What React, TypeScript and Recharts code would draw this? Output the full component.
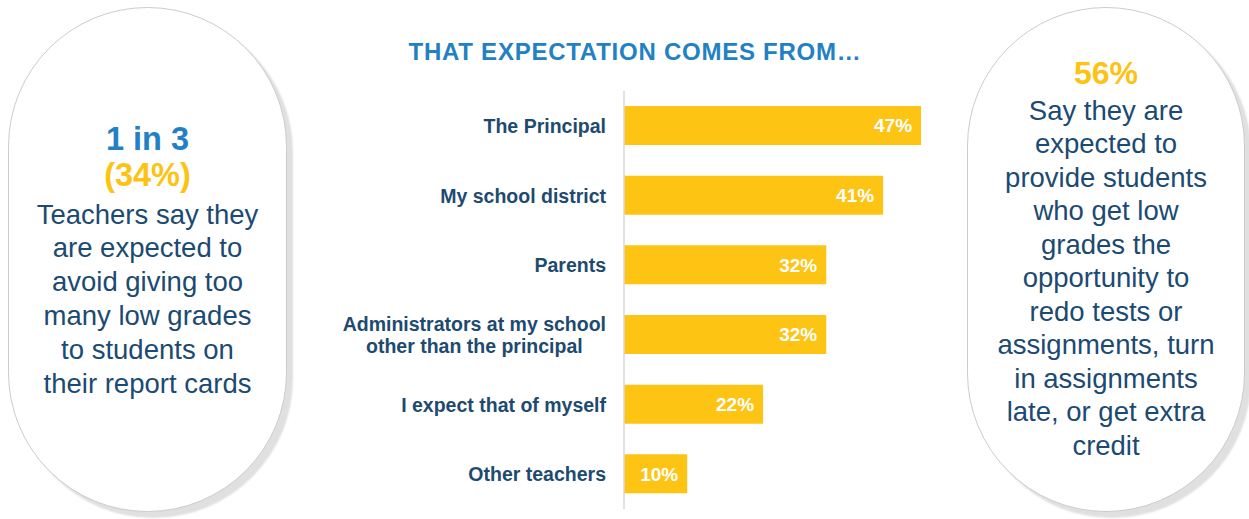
import { BarChart, Bar, XAxis, YAxis, LabelList } from 'recharts';

const categories = [
  'The Principal',
  'My school district',
  'Parents',
  'Administrators at my school\nother than the principal',
  'I expect that of myself',
  'Other teachers',
];
const values = [47, 41, 32, 32, 22, 10];

const title = 'THAT EXPECTATION COMES FROM…';
const leftHead = '1 in 3';
const leftPct = '(34%)';
const leftBody = ['Teachers say they', 'are expected to', 'avoid giving too', 'many low grades', 'to students on', 'their report cards'];
const rightPct = '56%';
const rightBody = [
  'Say they are',
  'expected to',
  'provide students',
  'who get low',
  'grades the',
  'opportunity to',
  'redo tests or',
  'assignments, turn',
  'in assignments',
  'late, or get extra',
  'credit',
];

const FONT = '"Liberation Sans", Arial, Helvetica, sans-serif';
const NAVY = '#1b4a72';
const BLUE = '#2281c4';
const GOLD = '#fcc312';
const BAR = '#fdc414';

const data = categories.map((label, i) => ({ label, value: values[i] }));

let ctx: CanvasRenderingContext2D | null = null;
function measure(text: string, font: string) {
  if (!ctx) ctx = document.createElement('canvas').getContext('2d');
  if (!ctx) return text.length * 10;
  ctx.font = font;
  return ctx.measureText(text).width;
}

const LABEL_SIZE = 19.5;

function CategoryTick(props: any) {
  const { x, y, payload } = props;
  const lines = String(payload.value).split('\n');
  const style = { fontFamily: FONT, fontWeight: 700, fontSize: LABEL_SIZE, fill: '#1e4a70' };
  if (lines.length === 1) {
    return (
      <text x={x} y={y} dy="0.36em" textAnchor="end" style={style}>
        {lines[0]}
      </text>
    );
  }
  // multi-line labels are centred on each other, block right-aligned to the axis
  const maxW = Math.max(...lines.map((l) => measure(l, `700 ${LABEL_SIZE}px ${FONT}`)));
  const cx = x - maxW / 2;
  const lh = 22;
  const y0 = y - ((lines.length - 1) * lh) / 2;
  return (
    <text textAnchor="middle" style={style}>
      {lines.map((l, i) => (
        <tspan key={i} x={cx} y={y0 + i * lh} dy="0.36em">
          {l}
        </tspan>
      ))}
    </text>
  );
}

function ValueLabel(props: any) {
  const { x, y, width, height, value } = props;
  return (
    <text
      x={x + width - 9}
      y={y + height / 2}
      dy="0.36em"
      textAnchor="end"
      style={{ fontFamily: FONT, fontWeight: 700, fontSize: 19, fill: '#ffffff' }}
    >
      {`${value}%`}
    </text>
  );
}

const ovalStyle: React.CSSProperties = {
  position: 'absolute',
  top: 7,
  width: 279,
  height: 505,
  borderRadius: 140,
  border: '1px solid #cccccc',
  boxSizing: 'border-box',
  background: '#ffffff',
  boxShadow: '6px 6px 2px #e0e0e0',
};

function TextBlock({ left, width, top, lines, size, lh, color, bold }: any) {
  return (
    <div
      style={{
        position: 'absolute',
        left,
        top,
        width,
        textAlign: 'center',
        fontFamily: FONT,
        fontSize: size,
        lineHeight: `${lh}px`,
        fontWeight: bold ? 700 : 400,
        color,
        whiteSpace: 'nowrap',
      }}
    >
      {lines.map((l: string, i: number) => (
        <div key={i}>{l}</div>
      ))}
    </div>
  );
}

export default function App() {
  return (
    <div
      style={{
        position: 'absolute',
        left: 0,
        top: 0,
        width: 1249,
        height: 519,
        background: '#ffffff',
        overflow: 'hidden',
      }}
    >
      <div style={{ ...ovalStyle, left: 8 }} />
      <div style={{ ...ovalStyle, left: 967, width: 278 }} />

      <TextBlock left={8} width={279} top={119.7} lines={[leftHead]} size={32.5} lh={38} color={BLUE} bold />
      <TextBlock left={8} width={279} top={156.4} lines={[leftPct]} size={32.5} lh={38} color={GOLD} bold />
      <TextBlock left={8} width={279} top={197.6} lines={leftBody} size={27.5} lh={33.8} color={NAVY} />

      <TextBlock left={967} width={278} top={53.9} lines={[rightPct]} size={32} lh={38} color={GOLD} bold />
      <TextBlock left={967} width={278} top={93.7} lines={rightBody} size={27.5} lh={33.5} color={NAVY} />

      <div
        style={{
          position: 'absolute',
          left: 335,
          width: 600,
          top: 37,
          textAlign: 'center',
          fontFamily: FONT,
          fontWeight: 700,
          fontSize: 24,
          letterSpacing: 0.75,
          lineHeight: '30px',
          color: BLUE,
          whiteSpace: 'nowrap',
        }}
      >
        {title}
      </div>

      <div style={{ position: 'absolute', left: 330, top: 91 }}>
        <BarChart
          width={610}
          height={418}
          data={data}
          layout="vertical"
          margin={{ top: 0, right: 0, bottom: 0, left: 0 }}
          barSize={39}
        >
          <XAxis type="number" domain={[0, 50]} hide />
          <YAxis
            type="category"
            dataKey="label"
            width={294}
            axisLine={{ stroke: '#d9d9d9', strokeWidth: 1.5 }}
            tickLine={false}
            tickSize={6}
            tickMargin={12}
            tick={<CategoryTick />}
            interval={0}
          />
          <Bar dataKey="value" fill={BAR} isAnimationActive={false}>
            <LabelList dataKey="value" content={<ValueLabel />} />
          </Bar>
        </BarChart>
      </div>
    </div>
  );
}
